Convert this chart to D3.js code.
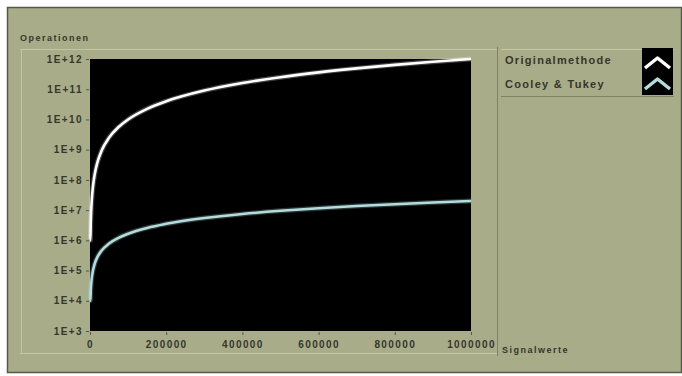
<!DOCTYPE html>
<html><head><meta charset="utf-8">
<script src="https://cdn.jsdelivr.net/npm/d3@7"></script>
<style>html,body{margin:0;padding:0;background:#fff;}svg{display:block;}</style>
</head><body>
<svg id="c" width="682" height="376"></svg>
<script>
const signalValues = [1000, 2000, 3000, 5000, 7500, 10000, 15000, 20000, 30000, 50000, 75000, 100000, 150000, 200000, 300000, 400000, 500000, 600000, 700000, 800000, 900000, 1000000];
const originalOps = [1e6, 4e6, 9e6, 2.5e7, 5.6e7, 1e8, 2.25e8, 4e8, 9e8, 2.5e9, 5.6e9, 1e10, 2.25e10, 4e10, 9e10, 1.6e11, 2.5e11, 3.6e11, 4.9e11, 6.4e11, 8.1e11, 1e12];
const cooleyOps = [1e4, 2.2e4, 3.5e4, 6.1e4, 9.7e4, 1.33e5, 2.1e5, 2.9e5, 4.5e5, 7.8e5, 1.21e6, 1.66e6, 2.58e6, 3.52e6, 5.46e6, 7.44e6, 9.47e6, 1.15e7, 1.36e7, 1.57e7, 1.78e7, 2e7];
const yTickValues = [1e3, 1e4, 1e5, 1e6, 1e7, 1e8, 1e9, 1e10, 1e11, 1e12];
const yTickLabels = ["1E+3", "1E+4", "1E+5", "1E+6", "1E+7", "1E+8", "1E+9", "1E+10", "1E+11", "1E+12"];
const xTickValues = [0, 200000, 400000, 600000, 800000, 1000000];
const seriesNames = ["Originalmethode", "Cooley & Tukey"];
const seriesColors = ["#ffffff", "#b4dcdc"];

const svg = d3.select("#c");
const olive = "#a8ac89";
const ink = "#35372c";
// outer panel
svg.append("rect").attr("x", 7.5).attr("y", 7.5).attr("width", 674).attr("height", 365)
  .attr("fill", olive).attr("stroke", "#555a4c").attr("stroke-width", 1.5);
// frame lines
const hl = "#c2c6a6", sh = "#7f8366";
svg.append("line").attr("x1", 20).attr("x2", 497).attr("y1", 49.5).attr("y2", 49.5).attr("stroke", hl);
svg.append("line").attr("x1", 21.5).attr("x2", 21.5).attr("y1", 49).attr("y2", 353).attr("stroke", hl);
svg.append("line").attr("x1", 20).attr("x2", 497).attr("y1", 353.5).attr("y2", 353.5).attr("stroke", hl);
svg.append("line").attr("x1", 497.5).attr("x2", 497.5).attr("y1", 47).attr("y2", 356).attr("stroke", sh);
svg.append("line").attr("x1", 501).attr("x2", 674).attr("y1", 96.5).attr("y2", 96.5).attr("stroke", sh);
svg.append("line").attr("x1", 501).attr("x2", 674).attr("y1", 49.5).attr("y2", 49.5).attr("stroke", hl);

const x = d3.scaleLinear().domain([0, 1000000]).range([90, 471]);
const y = d3.scaleLog().domain([1e3, 1e12]).range([331, 59]);

svg.append("rect").attr("x", 90).attr("y", 59).attr("width", 381).attr("height", 272).attr("fill", "#000");

const font = "Liberation Sans, Arial, sans-serif";
const yAxis = svg.append("g").attr("transform", "translate(89,0)")
  .call(d3.axisLeft(y).tickValues(yTickValues).tickFormat((d, i) => yTickLabels[i]).tickSize(3).tickPadding(3));
const xAxis = svg.append("g").attr("transform", "translate(0,332)")
  .call(d3.axisBottom(x).tickValues(xTickValues).tickFormat(d3.format("d")).tickSize(3).tickPadding(6));
[yAxis, xAxis].forEach(a => {
  a.select(".domain").remove();
  a.selectAll("line").attr("stroke", "#55584a");
  a.selectAll("text").attr("fill", ink).style("font-family", font).style("font-size", "10px")
    .style("font-weight", "bold").style("letter-spacing", "1.4px");
});

const line = d3.line().x(d => x(d[0])).y(d => y(d[1])).curve(d3.curveMonotoneX);
[originalOps, cooleyOps].forEach((vals, i) => {
  const pts = [[0, vals[0]]].concat(signalValues.map((s, j) => [s, vals[j]]));
  svg.append("path").datum(pts).attr("d", line).attr("fill", "none")
    .attr("stroke", seriesColors[i]).attr("stroke-width", 5).attr("stroke-opacity", 0.25);
  svg.append("path").datum(pts).attr("d", line).attr("fill", "none")
    .attr("stroke", seriesColors[i]).attr("stroke-width", 2.6);
});

const labelStyle = s => s.attr("fill", ink).style("font-family", font).style("font-size", "9px")
  .style("font-weight", "bold").style("letter-spacing", "1.5px");
svg.append("text").attr("x", 20).attr("y", 41).text("Operationen").call(labelStyle);
svg.append("text").attr("x", 502).attr("y", 353).text("Signalwerte").call(labelStyle);

// legend
seriesNames.forEach((n, i) => {
  svg.append("text").attr("x", 505).attr("y", 64 + i * 24).text(n)
    .attr("fill", ink).style("font-family", font).style("font-size", "11px")
    .style("font-weight", "bold").style("letter-spacing", "1.3px");
});
svg.append("rect").attr("x", 642).attr("y", 48).attr("width", 31).attr("height", 47).attr("fill", "#000");
seriesColors.forEach((c, i) => {
  const cy = 58 + i * 21;
  svg.append("path").attr("d", `M645,${cy + 10} L657.5,${cy} L670,${cy + 10}`)
    .attr("fill", "none").attr("stroke", c).attr("stroke-width", 3.5).attr("stroke-linejoin", "round");
});
</script>
</body></html>
